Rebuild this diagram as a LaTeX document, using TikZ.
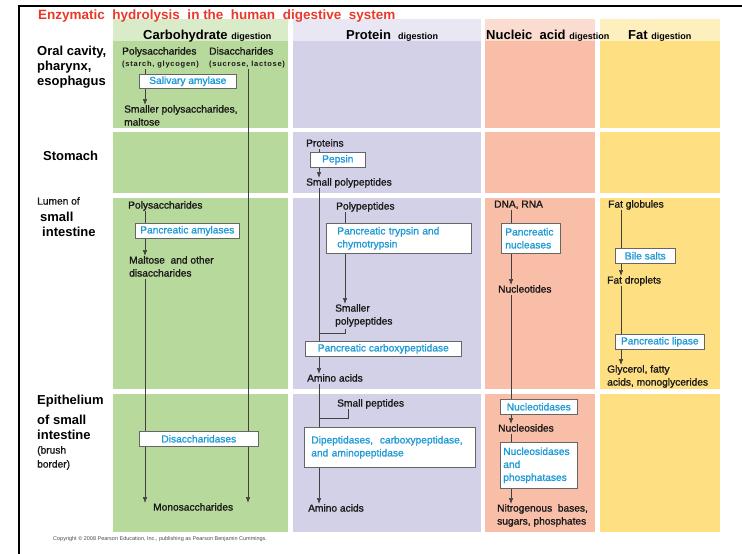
\documentclass[tikz,border=0pt]{standalone}
\usepackage{fontspec}
\setmainfont{Liberation Sans}
\newfontfamily\medfont[FakeBold=1.2]{Liberation Sans}
\usepackage{tikz}
\usetikzlibrary{arrows.meta}
\definecolor{carbG}{HTML}{B8D99C}
\definecolor{carbH}{HTML}{DAEBC9}
\definecolor{protG}{HTML}{D3D1E7}
\definecolor{protH}{HTML}{E9E7F3}
\definecolor{nuclG}{HTML}{F8BEA8}
\definecolor{nuclH}{HTML}{FBDCD0}
\definecolor{fatG}{HTML}{FEDF82}
\definecolor{fatH}{HTML}{FEEFBF}
\definecolor{enzblue}{HTML}{1E9BD7}
\definecolor{titlered}{HTML}{E8392A}

\begin{document}
\begin{tikzpicture}[x=1pt,y=-1pt,
  txt/.style={inner sep=0pt,anchor=west,font=\medfont\fontsize{10.2}{13}\selectfont,text=black!90,text height=7.4pt,text depth=0.2pt},
  txtnw/.style={inner sep=0pt,anchor=north west,font=\medfont\fontsize{10.2}{13}\selectfont,text=black!90,align=left},
  paren/.style={txt,font={\fontsize{7.5}{9}\selectfont\bfseries\addfontfeature{LetterSpace=10}},text height=5.5pt,text depth=0.2pt},
  rowlbl/.style={inner sep=0pt,anchor=north west,font=\fontsize{13}{15}\selectfont\bfseries,align=left},
  hdr/.style={inner sep=0pt,anchor=base west,font=\fontsize{13}{15}\selectfont\bfseries},
  enz/.style={draw=black!60,fill=white,line width=0.6pt,inner xsep=3pt,inner ysep=0pt,anchor=north west,text=enzblue,font=\medfont\fontsize{10.2}{13}\selectfont,align=center},
  ln/.style={draw=black!75,line width=0.6pt},
  arr/.style={ln,-{Latex[length=6pt,width=4.5pt]}}]
\useasboundingbox (0,0) rectangle (742,554);
\draw[line width=2pt] (19,554) -- (19,6) -- (742,6);
\foreach \xl/\xr/\cb/\ch in {113/288/carbG/carbH,293/481/protG/protH,485/595/nuclG/nuclH,600/720/fatG/fatH}{
  \fill[\ch] (\xl,19) rectangle (\xr,41);
  \foreach \ya/\yb in {41/128,132/193,198/389,394/532}
    \fill[\cb] (\xl,\ya) rectangle (\xr,\yb);
}
\node[inner sep=0pt,anchor=base west,font=\fontsize{13.5}{15}\selectfont\bfseries,text=titlered] (ttl) at (38,19.5) {Enzymatic\ \ hydrolysis\ \ in the\ \ human\ \ digestive\ \ system};
\node[hdr] (hcarb) at (143,39) {Carbohydrate {\fontsize{9}{10}\selectfont digestion}};
\node[hdr] (hprot) at (346,39) {Protein\ \ {\fontsize{9}{10}\selectfont digestion}};
\node[hdr] (hnucl) at (486,39) {Nucleic\ \ acid {\fontsize{9}{10}\selectfont digestion}};
\node[hdr] (hfat) at (628,39) {Fat {\fontsize{9}{10}\selectfont digestion}};

\node[rowlbl] (oral) at (37,46) {Oral cavity,\\pharynx,\\esophagus};
\node[rowlbl,anchor=west] (stm) at (43,156) {Stomach};
\node[txt] (lum1) at (37,201) {Lumen of};
\node[rowlbl,anchor=west] (lum2) at (40,217) {small};
\node[rowlbl,anchor=west] (lum3) at (42,232) {intestine};
\node[rowlbl] (epi) at (37,394.5) {Epithelium\\[5pt]of small\\intestine};
\node[txtnw,font=\medfont\fontsize{10.2}{14}\selectfont] (brd) at (37,446) {(brush\\border)};

\node[txt] (ps1) at (122,51) {Polysaccharides};
\node[txt] (ds1) at (209,51) {Disaccharides};
\node[paren] (sg1) at (122,64) {(starch, glycogen)};
\node[paren] (sl1) at (209,64) {(sucrose, lactose)};
\node[enz,minimum width=97pt,minimum height=14pt] (sal) at (139,74) {Salivary amylase};
\node[txtnw] (sp1) at (124,105) {Smaller polysaccharides,\\maltose};
\node[txt] (ps2) at (128,205) {Polysaccharides};
\node[enz,minimum width=104pt,minimum height=15pt] (pam) at (135,223) {Pancreatic amylases};
\node[txtnw] (md) at (129,256) {Maltose\ \ and other\\disaccharides};
\node[enz,minimum width=119pt,minimum height=15pt] (dsd) at (139,431) {Disaccharidases};
\node[txt] (mono) at (153,507) {Monosaccharides};

\node[txt] (prt) at (306,143) {Proteins};
\node[enz,minimum width=55pt,minimum height=15pt] (pep) at (310,152) {Pepsin};
\node[txt] (spp) at (306,182) {Small polypeptides};
\node[txt] (pp) at (336,206) {Polypeptides};
\node[enz,align=left,inner xsep=11pt,text width=123pt,minimum height=30pt] (try) at (326,223) {Pancreatic trypsin and\\chymotrypsin};
\node[txtnw] (smp) at (335,304) {Smaller\\polypeptides};
\node[enz,minimum width=156pt,minimum height=15pt] (cbp) at (305,341) {Pancreatic carboxypeptidase};
\node[txt] (aa1) at (307,378) {Amino acids};
\node[txt] (spt) at (337,403) {Small peptides};
\node[enz,align=left,inner xsep=7pt,text width=157pt,minimum height=40pt] (dip) at (304,427) {Dipeptidases,\ \ carboxypeptidase,\\and aminopeptidase};
\node[txt] (aa2) at (308,508) {Amino acids};

\node[txt] (dna) at (494,204) {DNA, RNA};
\node[enz,align=left,inner xsep=4pt,text width=51pt,minimum height=30pt] (nuc) at (501,223) {Pancreatic\\nucleases};
\node[txt] (ntl) at (498,289) {Nucleotides};
\node[enz,minimum width=77pt,minimum height=15pt] (ntd) at (500,399) {Nucleotidases};
\node[txt] (nsl) at (498,428) {Nucleosides};
\node[enz,align=left,inner xsep=3pt,text width=71pt,minimum height=46pt] (nsd) at (500,442) {Nucleosidases\\and\\phosphatases};
\node[txtnw] (nit) at (497,504) {Nitrogenous\ \ bases,\\sugars, phosphates};

\node[txt] (fg) at (608,204) {Fat globules};
\node[enz,minimum width=60pt,minimum height=15pt] (bil) at (615,248) {Bile salts};
\node[txt] (fd) at (607,280) {Fat droplets};
\node[enz,minimum width=89pt,minimum height=15pt] (lip) at (615,334) {Pancreatic lipase};
\node[txtnw] (gly) at (607,365) {Glycerol, fatty\\acids, monoglycerides};

\node[inner sep=0pt,anchor=west,font=\fontsize{5.5}{6}\selectfont,text=black!70] (cpr) at (53,539) {Copyright \textcopyright{} 2008 Pearson Education, Inc., publishing as Pearson Benjamin Cummings.};

\coordinate (c1) at (145,0);
\coordinate (c2) at (248,0);
\coordinate (c3) at (319,0);
\coordinate (c4) at (345,0);
\coordinate (c5) at (348,0);
\coordinate (c6) at (511,0);
\coordinate (c7) at (621,0);
\coordinate (j1) at (319,333);
\coordinate (j2) at (319,418);

\draw[ln,shorten <=2pt] (sg1.south -| c1) -- (sal.north -| c1);
\draw[arr] (sal.south -| c1) -- (sp1.north -| c1);
\draw[ln,shorten <=2pt] (sl1.south -| c2) -- (dsd.north -| c2);
\draw[arr] (dsd.south -| c2) -- (mono.north -| c2);
\draw[ln,shorten <=2pt] (ps2.south -| c1) -- (pam.north -| c1);
\draw[arr] (pam.south -| c1) -- (md.north -| c1);
\draw[ln,shorten <=2pt] (md.south -| c1) -- (dsd.north -| c1);
\draw[arr] (dsd.south -| c1) -- (mono.north -| c1);

\draw[ln,shorten <=2pt] (prt.south -| c3) -- (pep.north -| c3);
\draw[arr] (pep.south -| c3) -- (spp.north -| c3);
\draw[ln,shorten <=2pt] (spp.south -| c3) -- (cbp.north -| c3);
\draw[ln,shorten <=2pt] (pp.south -| c4) -- (try.north -| c4);
\draw[arr] (try.south -| c4) -- (smp.north -| c4);
\draw[ln,shorten <=2pt] (smp.south -| c4) |- (j1);
\draw[arr] (cbp.south -| c3) -- (aa1.north -| c3);
\draw[ln,shorten <=2pt] (aa1.south -| c3) -- (dip.north -| c3);
\draw[ln,shorten <=2pt] (spt.south -| c5) |- (j2);
\draw[arr] (dip.south -| c3) -- (aa2.north -| c3);

\draw[ln,shorten <=2pt] (dna.south -| c6) -- (nuc.north -| c6);
\draw[arr] (nuc.south -| c6) -- (ntl.north -| c6);
\draw[ln,shorten <=2pt] (ntl.south -| c6) -- (ntd.north -| c6);
\draw[arr] (ntd.south -| c6) -- (nsl.north -| c6);
\draw[ln,shorten <=2pt] (nsl.south -| c6) -- (nsd.north -| c6);
\draw[arr] (nsd.south -| c6) -- (nit.north -| c6);

\draw[ln,shorten <=2pt] (fg.south -| c7) -- (bil.north -| c7);
\draw[arr] (bil.south -| c7) -- (fd.north -| c7);
\draw[ln,shorten <=2pt] (fd.south -| c7) -- (lip.north -| c7);
\draw[arr] (lip.south -| c7) -- (gly.north -| c7);
\end{tikzpicture}
\end{document}
